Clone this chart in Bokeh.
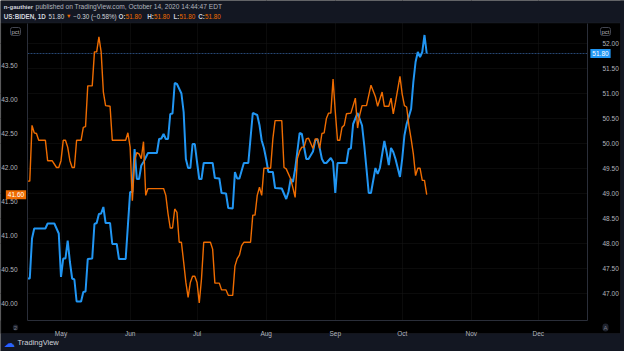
import pandas as pd
from bokeh.plotting import figure
from bokeh.models import (Range1d, LinearAxis, FixedTicker, MonthsTicker,
                          DatetimeTickFormatter, PrintfTickFormatter, Label, Span,
                          BoxAnnotation, ColumnDataSource)
from bokeh.embed import file_html
from bokeh.resources import INLINE

# ---------------- data ----------------
blue_dates = [
    "2020-04-16", "2020-04-17", "2020-04-18", "2020-04-19", "2020-04-24", "2020-04-25",
    "2020-04-28", "2020-04-30", "2020-05-01", "2020-05-02", "2020-05-03", "2020-05-04",
    "2020-05-05", "2020-05-06", "2020-05-07", "2020-05-08", "2020-05-10", "2020-05-11",
    "2020-05-12", "2020-05-13", "2020-05-15", "2020-05-16", "2020-05-17", "2020-05-18",
    "2020-05-19", "2020-05-20", "2020-05-21", "2020-05-23", "2020-05-24", "2020-05-26",
    "2020-05-27", "2020-05-30", "2020-06-01", "2020-06-02", "2020-06-03", "2020-06-04",
    "2020-06-05", "2020-06-06", "2020-06-07", "2020-06-09", "2020-06-13", "2020-06-14",
    "2020-06-15", "2020-06-16", "2020-06-17", "2020-06-18", "2020-06-19", "2020-06-20",
    "2020-06-21", "2020-06-22", "2020-06-24", "2020-06-25", "2020-06-26", "2020-06-27",
    "2020-06-28", "2020-06-29", "2020-06-30", "2020-07-01", "2020-07-02", "2020-07-03",
    "2020-07-04", "2020-07-08", "2020-07-09", "2020-07-11", "2020-07-12", "2020-07-14",
    "2020-07-15", "2020-07-17", "2020-07-18", "2020-07-19", "2020-07-20", "2020-07-22",
    "2020-07-24", "2020-07-26", "2020-07-28", "2020-07-29", "2020-07-30", "2020-07-31",
    "2020-08-01", "2020-08-02", "2020-08-04", "2020-08-05", "2020-08-08", "2020-08-10",
    "2020-08-11", "2020-08-12", "2020-08-13", "2020-08-14", "2020-08-16", "2020-08-17",
    "2020-08-18", "2020-08-19", "2020-08-20", "2020-08-22", "2020-08-23", "2020-08-24",
    "2020-08-25", "2020-08-26", "2020-08-27", "2020-08-28", "2020-08-30", "2020-08-31",
    "2020-09-01", "2020-09-02", "2020-09-06", "2020-09-07", "2020-09-08", "2020-09-09",
    "2020-09-11", "2020-09-13", "2020-09-14", "2020-09-15", "2020-09-16", "2020-09-17",
    "2020-09-19", "2020-09-20", "2020-09-21", "2020-09-23", "2020-09-24", "2020-09-25",
    "2020-09-26", "2020-09-27", "2020-09-28", "2020-09-30", "2020-10-01", "2020-10-02",
    "2020-10-03", "2020-10-05", "2020-10-06", "2020-10-07", "2020-10-08", "2020-10-09",
    "2020-10-10", "2020-10-11", "2020-10-12",
]
blue_values = [
    47.30, 47.30, 48.10, 48.30, 48.30, 48.40,
    48.40, 48.20, 47.33, 47.70, 47.70, 48.06,
    47.63, 47.30, 47.28, 46.84, 46.84, 47.03,
    47.04, 47.69, 47.70, 48.39, 48.41, 48.59,
    48.60, 48.73, 48.41, 48.41, 47.99, 47.99,
    47.69, 47.69, 49.03, 49.03, 49.89, 49.29,
    49.29, 49.56, 49.63, 49.81, 49.81, 50.09,
    50.10, 50.19, 50.09, 50.09, 50.59, 50.60,
    51.21, 51.19, 51.00, 50.63, 49.69, 49.51,
    49.51, 49.99, 49.99, 49.63, 49.29, 49.29,
    49.61, 49.61, 49.31, 49.30, 49.01, 49.00,
    48.71, 48.70, 49.43, 49.30, 49.30, 49.61,
    49.61, 50.61, 50.57, 50.37, 50.06, 49.91,
    49.69, 49.43, 49.43, 49.11, 49.10, 48.89,
    49.03, 49.29, 49.23, 49.49, 50.21, 50.19,
    49.93, 49.69, 49.69, 49.84, 50.06, 50.09,
    49.91, 49.69, 49.61, 49.61, 49.71, 49.63,
    49.01, 49.61, 49.61, 49.89, 49.90, 50.39,
    50.61, 50.36, 49.96, 49.49, 49.01, 49.01,
    49.51, 49.39, 49.51, 50.05, 49.83, 49.57,
    49.91, 49.83, 49.69, 49.33, 49.69, 50.16,
    50.39, 50.69, 51.23, 51.63, 51.83, 51.73,
    51.83, 52.17, 51.80,
]

orange_dates = [
    "2020-04-16", "2020-04-17", "2020-04-18", "2020-04-19", "2020-04-20", "2020-04-21",
    "2020-04-24", "2020-04-25", "2020-04-27", "2020-04-29", "2020-04-30", "2020-05-01",
    "2020-05-02", "2020-05-03", "2020-05-04", "2020-05-05", "2020-05-06", "2020-05-07",
    "2020-05-08", "2020-05-10", "2020-05-11", "2020-05-12", "2020-05-13", "2020-05-15",
    "2020-05-16", "2020-05-17", "2020-05-18", "2020-05-19", "2020-05-20", "2020-05-21",
    "2020-05-23", "2020-05-24", "2020-05-30", "2020-05-31", "2020-06-01", "2020-06-02",
    "2020-06-03", "2020-06-04", "2020-06-05", "2020-06-06", "2020-06-07", "2020-06-08",
    "2020-06-09", "2020-06-16", "2020-06-17", "2020-06-18", "2020-06-19", "2020-06-20",
    "2020-06-21", "2020-06-22", "2020-06-23", "2020-06-24", "2020-06-25", "2020-06-26",
    "2020-06-27", "2020-06-28", "2020-06-29", "2020-06-30", "2020-07-01", "2020-07-02",
    "2020-07-03", "2020-07-04", "2020-07-07", "2020-07-08", "2020-07-09", "2020-07-11",
    "2020-07-12", "2020-07-14", "2020-07-15", "2020-07-17", "2020-07-18", "2020-07-19",
    "2020-07-20", "2020-07-21", "2020-07-22", "2020-07-25", "2020-07-26", "2020-07-27",
    "2020-07-28", "2020-07-29", "2020-07-30", "2020-07-31", "2020-08-03", "2020-08-04",
    "2020-08-05", "2020-08-08", "2020-08-09", "2020-08-10", "2020-08-12", "2020-08-13",
    "2020-08-14", "2020-08-15", "2020-08-16", "2020-08-17", "2020-08-18", "2020-08-19",
    "2020-08-20", "2020-08-22", "2020-08-23", "2020-08-24", "2020-08-25", "2020-08-26",
    "2020-08-27", "2020-08-28", "2020-08-29", "2020-08-30", "2020-08-31", "2020-09-01",
    "2020-09-02", "2020-09-03", "2020-09-04", "2020-09-05", "2020-09-06", "2020-09-08",
    "2020-09-10", "2020-09-11", "2020-09-12", "2020-09-13", "2020-09-15", "2020-09-17",
    "2020-09-19", "2020-09-20", "2020-09-22", "2020-09-23", "2020-09-25", "2020-09-26",
    "2020-09-27", "2020-09-28", "2020-09-30", "2020-10-01", "2020-10-02", "2020-10-03",
    "2020-10-04", "2020-10-05", "2020-10-06", "2020-10-07", "2020-10-08", "2020-10-09",
    "2020-10-10", "2020-10-11", "2020-10-12",
]
orange_values = [
    41.80, 41.80, 42.62, 42.51, 42.50, 42.40,
    42.40, 42.10, 42.10, 42.00, 42.00, 42.10,
    42.40, 42.40, 42.30, 42.10, 42.00, 42.00,
    42.40, 42.40, 42.59, 42.60, 43.20, 43.20,
    43.70, 43.70, 43.92, 43.70, 43.11, 42.91,
    42.90, 42.40, 42.40, 42.51, 42.30, 41.51,
    42.10, 42.22, 42.20, 42.13, 42.38, 41.59,
    41.69, 41.69, 41.59, 41.32, 41.11, 41.11,
    41.39, 41.34, 40.90, 40.90, 40.61, 40.31,
    40.09, 40.31, 40.40, 40.40, 40.31, 40.01,
    40.36, 40.90, 40.90, 40.80, 40.30, 40.30,
    40.20, 40.20, 40.12, 40.12, 40.55, 40.66,
    40.71, 40.85, 40.90, 40.90, 41.30, 41.30,
    41.59, 41.71, 41.59, 41.99, 41.99, 42.42,
    42.69, 42.69, 42.00, 41.98, 41.83, 41.70,
    41.56, 42.13, 42.24, 42.30, 42.30, 42.42,
    42.43, 42.28, 42.42, 42.42, 42.28, 42.50,
    42.51, 42.72, 42.80, 42.80, 43.30, 42.82,
    42.40, 42.40, 42.59, 42.62, 42.79, 42.80,
    43.02, 42.58, 42.78, 42.91, 42.91, 43.21,
    43.04, 42.90, 43.11, 42.90, 42.90, 43.02,
    42.79, 42.96, 43.34, 43.08, 42.91, 42.89,
    42.62, 42.42, 42.20, 41.88, 41.99, 41.99,
    41.81, 41.81, 41.60,
]

left_ticks = [40.0, 40.5, 41.0, 41.5, 42.0, 42.5, 43.0, 43.5]
right_ticks = [47.0, 47.5, 48.0, 48.5, 49.0, 49.5, 50.0, 50.5, 51.0, 51.5, 52.0]
blue_last = 51.80
orange_last = 41.60

# ---------------- styling ----------------
FONT = "Liberation Sans"
NAVY = "#131722"
BLUE = "#2196f3"
ORANGE = "#ef6c00"
TXT = "#b2b5be"
TXT_HI = "#d1d4dc"
GRID = "#171717"
SEP = "#2a2e39"
W, H = 624, 351

blue_src = ColumnDataSource(dict(date=pd.to_datetime(blue_dates), value=blue_values))
orange_src = ColumnDataSource(dict(date=pd.to_datetime(orange_dates), value=orange_values))

# the frame covers the whole canvas; the chart pane is x 27..587, y 23..320 (canvas px)
base = pd.Timestamp("2020-05-01")
day = pd.Timedelta(days=1)
x_lo, x_hi = base - 27.13 * day, base + 252.69 * day      # canvas x 0 .. 624
pane_l, pane_r = base - 15.02 * day, base + 236.1 * day   # canvas x 27 .. 587
R_LO, R_HI = 45.84, 52.86       # right scale at canvas y 351 .. 0
L_LO, L_HI = 39.294, 44.456     # left scale at canvas y 351 .. 0
R_B, R_T = 46.46, 52.40         # right scale at pane bottom/top
L_B, L_T = 39.75, 44.118        # left scale at pane bottom/top

p = figure(width=W, height=H, x_axis_type="datetime", y_axis_location="right",
           x_range=Range1d(x_lo, x_hi), y_range=Range1d(R_LO, R_HI),
           output_backend="svg", toolbar_location=None,
           background_fill_color="#000000", border_fill_color=NAVY,
           min_border=0)
p.outline_line_color = None
p.extra_y_ranges = {"left": Range1d(L_LO, L_HI)}

def ms(ts):
    return ts.value / 1e6

# right (primary) axis: blue series
ry = p.yaxis[0]
ry.ticker = FixedTicker(ticks=right_ticks)
ry.formatter = PrintfTickFormatter(format="%.2f")
ry.fixed_location = ms(pane_r)
ry.bounds = (R_B, R_T)

# left axis: orange series
ly = LinearAxis(y_range_name="left", ticker=FixedTicker(ticks=left_ticks),
                formatter=PrintfTickFormatter(format="%.2f"),
                fixed_location=ms(pane_l), bounds=(L_B, L_T))
p.add_layout(ly, "left")

xa = p.xaxis[0]
xa.ticker = MonthsTicker(months=list(range(12)))
xa.formatter = DatetimeTickFormatter(months="%b", days="%b", years="%Y")
xa.fixed_location = R_B
xa.bounds = (pane_l, pane_r)

for ax in (ry, ly, xa):
    ax.major_tick_line_color = None
    ax.minor_tick_line_color = None
    ax.axis_line_color = SEP
    ax.major_label_text_color = TXT
    ax.major_label_text_font = FONT
    ax.major_label_text_font_size = "6.5px"
ly.major_label_standoff = 4
ry.major_label_standoff = 9
xa.major_label_standoff = 3

p.xgrid.grid_line_color = GRID
p.xgrid.grid_line_dash = "1 1"
p.ygrid.grid_line_color = GRID
p.ygrid.grid_line_dash = "1 1"

# price line of the main series (underlay, so the covers trim it at the scale)
p.add_layout(Span(location=blue_last, dimension="width", line_color="#2b4f80",
                  line_alpha=0.9, line_width=1, line_dash="2 1", level="underlay"))

def cover(l, r, t, b, color):
    p.add_layout(BoxAnnotation(left=l, right=r, top=H - t, bottom=H - b,
                               left_units="screen", right_units="screen",
                               top_units="screen", bottom_units="screen",
                               fill_color=color, fill_alpha=1.0, line_color=None,
                               level="underlay"))

cover(0, 27, 22.5, 333, "#000000")      # left scale strip
cover(587, 620, 22.5, 333, "#000000")   # right scale strip
cover(0, 620, 320, 333, "#000000")      # time scale strip
cover(0, W, 0, 22.5, NAVY)              # header
cover(0, W, 333, H, NAVY)               # footer
cover(620, W, 0, H, NAVY)               # right edge
p.add_layout(BoxAnnotation(left=0.5, right=620, top=H - 22.5, bottom=H - 333,
                           left_units="screen", right_units="screen",
                           top_units="screen", bottom_units="screen",
                           fill_color=None, line_color=SEP, line_width=1,
                           level="underlay"))

p.line(x="date", y="value", source=blue_src, line_color=BLUE, line_width=2)
p.line(x="date", y="value", source=orange_src, line_color=ORANGE, line_width=1.4,
       y_range_name="left")

# ---------------- texts ----------------
def lab(cx, cy, text, color=TXT_HI, size="6.3px", style="normal", align="left", **kw):
    p.add_layout(Label(x=cx, y=H - cy, x_units="screen", y_units="screen",
                       text=text, text_color=color, text_font=FONT, text_font_size=size,
                       text_font_style=style, text_align=align, text_baseline="middle", **kw))

lab(3.3, 6, "n-gauthier", style="bold", size="6px")
lab(35, 6, "published on TradingView.com, October 14, 2020 14:44:47 EDT", color=TXT,
    size="6.6px")
lab(3.3, 15.7, "US:BIDEN, 1D", style="bold")
lab(48, 15.7, "51.80")
lab(65.5, 15.7, "▼", color=ORANGE, size="5.5px")
lab(72.7, 15.7, "−0.30 (−0.58%)")
for cx, key, kw in [(118, "O:", 7.2), (146.7, "H:", 6.8), (173, "L:", 6.1), (197.7, "C:", 6.8)]:
    lab(cx, 15.7, key, style="bold")
    lab(cx + kw, 15.7, "51.80", color=ORANGE)

lab(15, 31, "pct", color=TXT, size="6px", align="center",
    border_line_color="#434651", border_radius=2, padding=1)
lab(605, 31, "pct", color=TXT, size="6px", align="center",
    border_line_color="#434651", border_radius=2, padding=1)

lab(15, 327, "2", color="#787b86", size="6px", align="center",
    background_fill_color="#1e222d", border_radius=4, padding=1)
lab(605, 327, "A", color="#787b86", size="6px", align="center",
    background_fill_color="#1e222d", border_radius=4, padding=1)

lab(9, 342, "☁", color="#2962ff", size="11px", align="center")
lab(17, 342, "TradingView", color=TXT_HI, size="7.5px")

p.add_layout(Label(x=15.5, y=orange_last, x_units="screen", y_units="data",
                   y_range_name="left", text="41.60", text_color="#ffffff",
                   text_font=FONT, text_font_size="6.5px", text_align="center",
                   text_baseline="middle", background_fill_color=ORANGE, padding=2))
p.add_layout(Label(x=600, y=blue_last, x_units="screen", y_units="data",
                   text="51.80", text_color="#ffffff",
                   text_font=FONT, text_font_size="6.5px", text_align="center",
                   text_baseline="middle", background_fill_color=BLUE, padding=2))

open("out.html", "w").write(file_html(p, INLINE))
